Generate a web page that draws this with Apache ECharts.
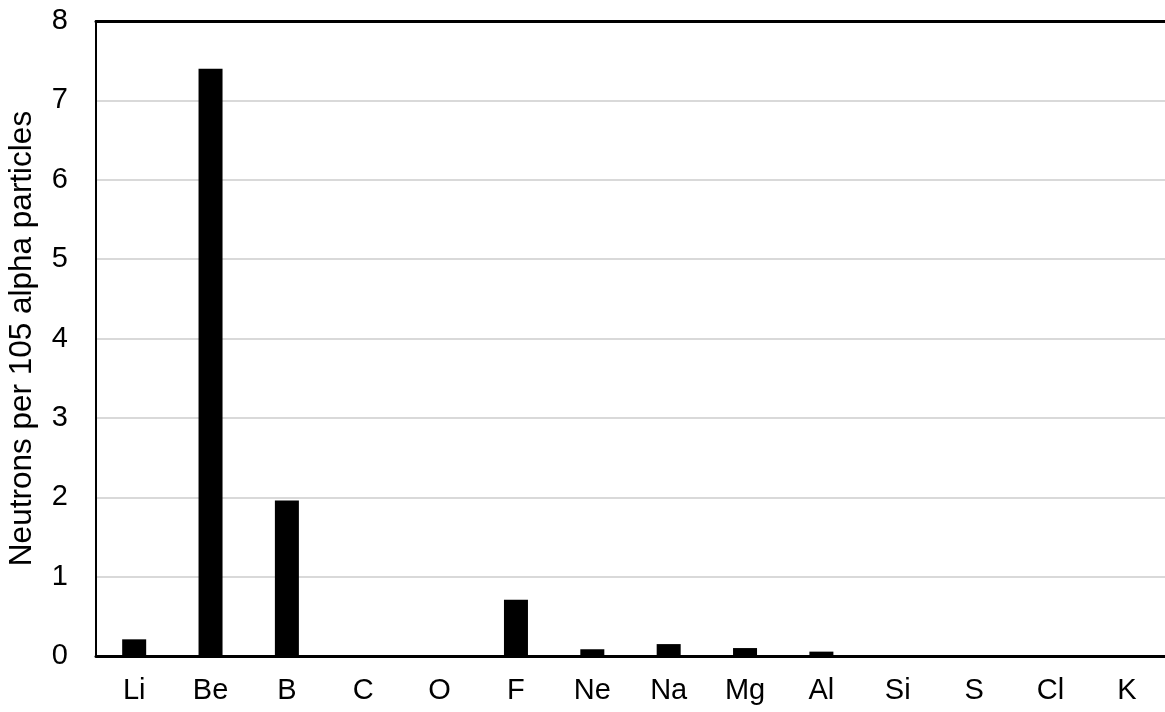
<!DOCTYPE html>
<html>
<head>
<meta charset="utf-8">
<script src="https://cdn.jsdelivr.net/npm/echarts@6/dist/echarts.min.js"></script>
<style>html,body{margin:0;padding:0;background:#fff}#c{width:1165px;height:712px}</style>
</head>
<body>
<div id="c"></div>
<script>
const categories = ['Li','Be','B','C','O','F','Ne','Na','Mg','Al','Si','S','Cl','K'];
const neutrons = [0.21, 7.40, 1.96, 0, 0, 0.71, 0.085, 0.15, 0.10, 0.055, 0, 0, 0, 0];
const yTicks = [0,1,2,3,4,5,6,7,8];
const yTitle = 'Neutrons per 105 alpha particles';

const chart = echarts.init(document.getElementById('c'));
const font = 'Liberation Sans, Arial, sans-serif';
chart.setOption({
  animation: false,
  backgroundColor: '#fff',
  grid: { left: 96, right: 0, top: 21, bottom: 56, containLabel: false, outerBoundsMode: 'none' },
  xAxis: [{
    type: 'category', data: categories,
    axisLine: { lineStyle: { color: '#000', width: 3 } },
    axisTick: { show: false },
    axisLabel: { color: '#000', fontSize: 29, fontFamily: font, margin: 20 }
  }, {
    type: 'category', data: categories, position: 'top',
    axisLine: { show: true, onZero: false, lineStyle: { color: '#000', width: 3 } },
    axisTick: { show: false }, axisLabel: { show: false }
  }],
  yAxis: {
    type: 'value', min: 0, max: 8, interval: 1,
    name: yTitle, nameLocation: 'middle', nameGap: 58, nameRotate: 90,
    nameTextStyle: { color: '#000', fontSize: 31.5, fontFamily: font },
    axisLine: { show: true, lineStyle: { color: '#000', width: 2 } },
    axisTick: { show: false },
    axisLabel: { color: '#000', fontSize: 29, fontFamily: font, margin: 28,
      formatter: v => yTicks.includes(v) ? String(v) : '' },
    splitLine: { lineStyle: { color: '#d9d9d9', width: 2 } }
  },
  series: [{
    type: 'bar', data: neutrons, barWidth: 24,
    itemStyle: { color: '#000' }
  }]
});
</script>
</body>
</html>
